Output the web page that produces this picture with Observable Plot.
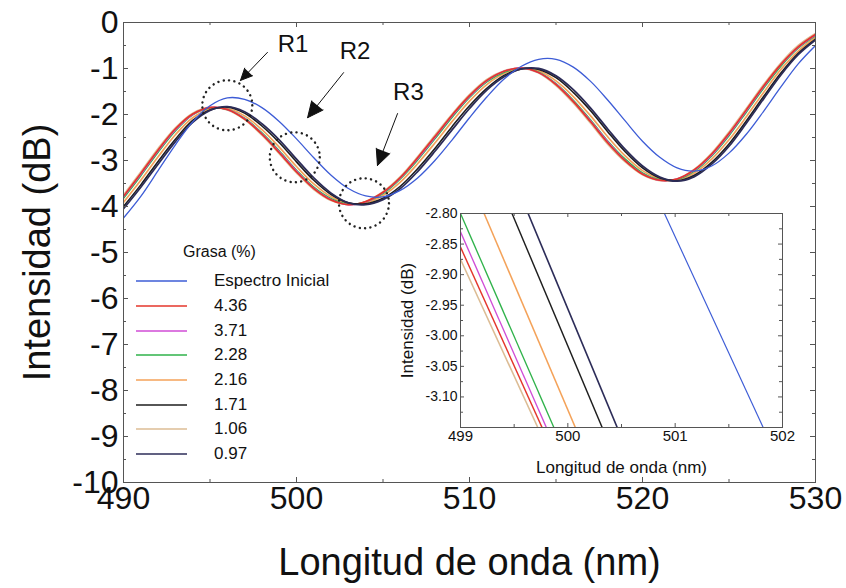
<!DOCTYPE html>
<html>
<head>
<meta charset="utf-8">
<script src="https://cdn.jsdelivr.net/npm/d3@7"></script>
<script src="https://cdn.jsdelivr.net/npm/@observablehq/plot@0.6"></script>
<style>
  html, body { margin: 0; padding: 0; background: #fff; }
  #wrap { position: relative; width: 846px; height: 588px; overflow: hidden; font-family: "Liberation Sans", Arial, Helvetica, sans-serif; }
  #wrap svg { display: block; }
  #inset { position: absolute; left: 395px; top: 200px; }
  #legend { position: absolute; left: 136px; top: 241px; color: #111; }
  #legend .ttl { margin-left: 47px; font-size: 16px; line-height: 22px; height: 22px; }
  #legend .rows { margin-top: 6px; }
  #legend .row { display: flex; align-items: center; height: 24.7px; }
  #legend .lab { margin-left: 27px; font-size: 17px; }
</style>
</head>
<body>
<div id="wrap"></div>
<script>
// ---------------- data ----------------
const wavelength = [490,491,492,493,494,495,496,497,498,499,500,501,502,503,504,505,506,507,508,509,510,
                    511,512,513,514,515,516,517,518,519,520,521,522,523,524,525,526,527,528,529,530];

const seriesNames = ["Espectro Inicial", "4.36", "3.71", "2.28", "2.16", "1.71", "1.06", "0.97"];

const espectroInicial = [-4.25,-3.78,-3.22,-2.66,-2.16,-1.81,-1.64,-1.67,-1.85,-2.15,-2.53,-2.94,-3.32,-3.61,-3.77,-3.79,-3.65,-3.38,-3.00,-2.55,-2.07,
                         -1.62,-1.23,-0.95,-0.80,-0.80,-0.97,-1.28,-1.69,-2.14,-2.58,-2.93,-3.16,-3.23,-3.12,-2.84,-2.43,-1.93,-1.40,-0.90,-0.50];
const grasa436 = [-3.78,-3.28,-2.77,-2.31,-1.99,-1.85,-1.89,-2.10,-2.43,-2.83,-3.25,-3.61,-3.86,-3.96,-3.89,-3.69,-3.37,-2.94,-2.48,-2.01,-1.59,
                  -1.26,-1.06,-0.99,-1.09,-1.35,-1.72,-2.16,-2.62,-3.01,-3.30,-3.43,-3.40,-3.20,-2.86,-2.41,-1.90,-1.38,-0.91,-0.53,-0.26];
const grasa371 = [-3.79,-3.30,-2.79,-2.33,-2.00,-1.85,-1.89,-2.09,-2.42,-2.81,-3.23,-3.60,-3.85,-3.96,-3.90,-3.70,-3.38,-2.96,-2.50,-2.03,-1.61,
                  -1.27,-1.06,-0.99,-1.09,-1.34,-1.71,-2.14,-2.60,-3.00,-3.29,-3.43,-3.40,-3.21,-2.88,-2.43,-1.92,-1.40,-0.92,-0.54,-0.27];
const grasa228 = [-3.82,-3.33,-2.82,-2.36,-2.01,-1.86,-1.89,-2.08,-2.40,-2.79,-3.21,-3.58,-3.83,-3.95,-3.90,-3.72,-3.40,-2.99,-2.53,-2.06,-1.63,
                  -1.29,-1.08,-0.99,-1.08,-1.33,-1.69,-2.12,-2.58,-2.97,-3.27,-3.42,-3.41,-3.23,-2.90,-2.46,-1.95,-1.43,-0.95,-0.56,-0.29];
const grasa216 = [-3.91,-3.43,-2.92,-2.44,-2.07,-1.88,-1.87,-2.03,-2.33,-2.71,-3.13,-3.51,-3.79,-3.94,-3.92,-3.76,-3.47,-3.07,-2.62,-2.15,-1.71,
                  -1.35,-1.11,-1.00,-1.05,-1.27,-1.61,-2.03,-2.49,-2.90,-3.22,-3.40,-3.42,-3.27,-2.97,-2.55,-2.05,-1.52,-1.02,-0.62,-0.32];
const grasa171 = [-4.00,-3.53,-3.02,-2.54,-2.13,-1.90,-1.84,-1.97,-2.25,-2.61,-3.03,-3.43,-3.74,-3.92,-3.94,-3.82,-3.56,-3.18,-2.74,-2.26,-1.81,
                  -1.43,-1.15,-1.01,-1.02,-1.20,-1.52,-1.92,-2.38,-2.81,-3.16,-3.38,-3.44,-3.32,-3.04,-2.64,-2.14,-1.61,-1.10,-0.67,-0.36];
const grasa106 = [-3.75,-3.25,-2.74,-2.29,-1.97,-1.84,-1.90,-2.11,-2.45,-2.85,-3.27,-3.63,-3.87,-3.96,-3.89,-3.68,-3.35,-2.92,-2.45,-1.99,-1.57,
                  -1.24,-1.05,-0.99,-1.10,-1.37,-1.75,-2.19,-2.65,-3.03,-3.31,-3.44,-3.40,-3.19,-2.84,-2.38,-1.87,-1.35,-0.88,-0.50,-0.24];
const grasa097 = [-4.05,-3.58,-3.08,-2.59,-2.17,-1.91,-1.83,-1.94,-2.20,-2.55,-2.97,-3.38,-3.71,-3.92,-3.96,-3.85,-3.61,-3.24,-2.80,-2.33,-1.87,
                  -1.47,-1.18,-1.01,-1.00,-1.16,-1.46,-1.86,-2.32,-2.76,-3.12,-3.36,-3.45,-3.35,-3.08,-2.69,-2.19,-1.66,-1.14,-0.70,-0.38];
const seriesValues = [espectroInicial, grasa436, grasa371, grasa228, grasa216, grasa171, grasa106, grasa097];

// inset (zoom 499-502 nm): entry and exit points of each line
const insetX1 = [500.90, 499.00, 499.00, 499.00, 499.22, 499.48, 499.00, 499.63];
const insetY1 = [-2.80, -2.855, -2.83, -2.80, -2.80, -2.80, -2.875, -2.80];
const insetX2 = [501.82, 499.76, 499.80, 499.87, 500.07, 500.32, 499.72, 500.46];
const insetY2 = [-3.15, -3.15, -3.15, -3.15, -3.15, -3.15, -3.15, -3.15];

// ticks
const xTicks = [490, 500, 510, 520, 530];
const xMinorTicks = [495, 505, 515, 525];
const yTicks = [0, -1, -2, -3, -4, -5, -6, -7, -8, -9, -10];
const yMinorTicks = [-0.5, -1.5, -2.5, -3.5, -4.5, -5.5, -6.5, -7.5, -8.5, -9.5];
const insetXTicks = [499, 500, 501, 502];
const insetXMinorTicks = [499.5, 500.5, 501.5];
const insetYTicks = [-2.80, -2.85, -2.90, -2.95, -3.00, -3.05, -3.10];
const insetYMinorTicks = [-2.825, -2.875, -2.925, -2.975, -3.025, -3.075, -3.125];

// annotations
const regionLabels = ["R1", "R2", "R3"];
const regionX = [496.0, 499.9, 503.9];
const regionY = [-1.80, -2.93, -3.93];
const labelX = [499.80, 503.38, 506.47];
const labelY = [-0.48, -0.63, -1.51];
const arrowX1 = [498.32, 502.72, 505.84];
const arrowY1 = [-0.65, -1.09, -1.98];
const arrowX2 = [496.76, 500.64, 504.68];
const arrowY2 = [-1.26, -2.07, -3.11];

// text
const xTitle = "Longitud de onda (nm)";
const yTitle = "Intensidad (dB)";
const legendTitle = "Grasa (%)";

// ---------------- styles ----------------
const FONT = '"Liberation Sans", Arial, Helvetica, sans-serif';
const colors = ["#3d5cd6", "#e4362b", "#d04cd6", "#2fb24a", "#f4a259", "#1e1e1e", "#dcbc94", "#2c2c58"];
const widths = [1.3, 1.6, 1.5, 1.5, 1.7, 1.6, 1.7, 1.8];
const drawOrder = [6, 4, 3, 2, 1, 5, 7, 0];
const axisColor = "#555";

function frameTicks(values, dim, len, FW, FH) {
  if (dim === "x") return [
    Plot.tickX(values, {x: d => d, insetTop: FH - len, stroke: axisColor}),
    Plot.tickX(values, {x: d => d, insetBottom: FH - len, stroke: axisColor})
  ];
  return [
    Plot.tickY(values, {y: d => d, insetRight: FW - len, stroke: axisColor}),
    Plot.tickY(values, {y: d => d, insetLeft: FW - len, stroke: axisColor})
  ];
}

// ---------------- main chart ----------------
const W = 846, H = 588, ML = 123, MR = 31, MT = 22, MB = 106;
const FW = W - ML - MR, FH = H - MT - MB;

const rows = [];
seriesNames.forEach((name, i) => seriesValues[i].forEach((v, j) => rows.push({series: name, idx: i, wl: wavelength[j], val: v})));

const idx3 = [0, 1, 2];

const main = Plot.plot({
  width: W, height: H,
  marginLeft: ML, marginRight: MR, marginTop: MT, marginBottom: MB,
  x: {domain: [490, 530]},
  y: {domain: [-10, 0]},
  style: {fontFamily: FONT, background: "white", color: "#111", overflow: "visible"},
  marks: [
    ...drawOrder.map(i => Plot.line(rows.filter(r => r.idx === i), {
      x: "wl", y: "val", stroke: colors[i], strokeWidth: widths[i], curve: "catmull-rom", clip: true
    })),
    Plot.frame({stroke: axisColor, strokeWidth: 1}),
    ...frameTicks(xTicks, "x", 5, FW, FH),
    ...frameTicks(xMinorTicks, "x", 3, FW, FH),
    ...frameTicks(yTicks, "y", 5, FW, FH),
    ...frameTicks(yMinorTicks, "y", 3, FW, FH),
    Plot.axisX({anchor: "bottom", ticks: xTicks, tickSize: 0, tickPadding: 4, tickFormat: d => String(d), fontSize: 32, label: null}),
    Plot.axisY({anchor: "left", ticks: yTicks, tickSize: 0, tickPadding: 5, tickFormat: d => String(d), fontSize: 32, label: null}),
    Plot.text([xTitle], {frameAnchor: "bottom", text: d => d, dy: 80, fontSize: 38, lineAnchor: "middle", textAnchor: "middle"}),
    Plot.text([yTitle], {frameAnchor: "left", text: d => d, rotate: -90, dx: -86, fontSize: 38, lineAnchor: "middle", textAnchor: "middle"}),
    Plot.dot(idx3, {x: i => regionX[i], y: i => regionY[i], r: 25, fill: "none", stroke: "#222", strokeWidth: 2.4,
                    strokeDasharray: "0.1 5.3", strokeLinecap: "round"}),
    Plot.arrow(idx3, {x1: i => arrowX1[i], y1: i => arrowY1[i], x2: i => arrowX2[i], y2: i => arrowY2[i],
                      stroke: "#111", fill: "#111", strokeWidth: 1, headLength: 26, headAngle: 50}),
    Plot.text(idx3, {x: i => labelX[i], y: i => labelY[i], text: i => regionLabels[i], fontSize: 24, fill: "#111"})
  ]
});

// ---------------- inset ----------------
const IW = 400, IH = 285, IML = 65, IMR = 13, IMT = 13, IMB = 58;
const IFW = IW - IML - IMR, IFH = IH - IMT - IMB;
const insetIdx = [6, 4, 3, 2, 1, 5, 7, 0];

const inset = Plot.plot({
  width: IW, height: IH,
  marginLeft: IML, marginRight: IMR, marginTop: IMT, marginBottom: IMB,
  x: {domain: [499, 502]},
  y: {domain: [-3.15, -2.80]},
  style: {fontFamily: FONT, background: "transparent", color: "#111", overflow: "visible"},
  marks: [
    Plot.frame({fill: "white", stroke: "none"}),
    ...insetIdx.map(i => Plot.link([i], {x1: d => insetX1[d], y1: d => insetY1[d], x2: d => insetX2[d], y2: d => insetY2[d],
                         stroke: colors[i], strokeWidth: widths[i] * 0.9, clip: true})),
    Plot.frame({stroke: axisColor, strokeWidth: 1}),
    ...frameTicks(insetXTicks, "x", 4, IFW, IFH),
    ...frameTicks(insetXMinorTicks, "x", 3, IFW, IFH),
    ...frameTicks(insetYTicks, "y", 4, IFW, IFH),
    ...frameTicks(insetYMinorTicks, "y", 3, IFW, IFH),
    Plot.axisX({anchor: "bottom", ticks: insetXTicks, tickSize: 0, tickPadding: 3, tickFormat: d => String(d), fontSize: 15, label: null}),
    Plot.axisY({anchor: "left", ticks: insetYTicks, tickSize: 0, tickPadding: 3, tickFormat: d => d.toFixed(2), fontSize: 14, label: null}),
    Plot.text([xTitle], {frameAnchor: "bottom", text: d => d, dy: 40, fontSize: 17, lineAnchor: "middle", textAnchor: "middle"}),
    Plot.text([yTitle], {frameAnchor: "left", text: d => d, rotate: -90, dx: -53, fontSize: 17, lineAnchor: "middle", textAnchor: "middle"})
  ]
});

const wrap = document.getElementById("wrap");
wrap.appendChild(main);
const insetDiv = document.createElement("div");
insetDiv.id = "inset";
insetDiv.appendChild(inset);
wrap.appendChild(insetDiv);

// ---------------- legend ----------------
const legend = document.createElement("div");
legend.id = "legend";
const ttl = document.createElement("div");
ttl.className = "ttl";
ttl.textContent = legendTitle;
legend.appendChild(ttl);
const rowsDiv = document.createElement("div");
rowsDiv.className = "rows";
seriesNames.forEach((name, i) => {
  const row = document.createElement("div");
  row.className = "row";
  const sw = document.createElementNS("http://www.w3.org/2000/svg", "svg");
  sw.setAttribute("width", 51); sw.setAttribute("height", 4);
  const ln = document.createElementNS("http://www.w3.org/2000/svg", "line");
  ln.setAttribute("x1", 0); ln.setAttribute("x2", 51); ln.setAttribute("y1", 2); ln.setAttribute("y2", 2);
  ln.setAttribute("stroke", colors[i]); ln.setAttribute("stroke-width", 1.6);
  sw.appendChild(ln);
  const lab = document.createElement("span");
  lab.className = "lab";
  lab.textContent = name;
  row.appendChild(sw); row.appendChild(lab);
  rowsDiv.appendChild(row);
});
legend.appendChild(rowsDiv);
wrap.appendChild(legend);
</script>
</body>
</html>
